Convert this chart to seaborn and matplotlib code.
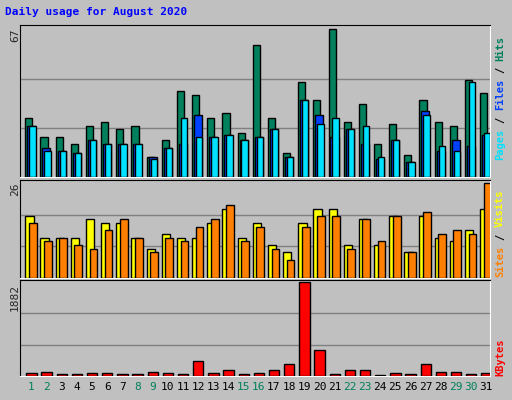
import matplotlib
matplotlib.use("Agg")
import matplotlib.pyplot as plt
import seaborn as sns
import numpy as np

sns.set_style("white")
plt.rcParams['font.family'] = ['DejaVu Sans Mono']

days = list(range(1, 32))
hits = [27,18,18,15,23,25,22,23,9,17,39,37,27,29,20,60,27,11,43,35,67,25,33,15,24,10,35,25,23,44,38]
files = [23,13,12,11,17,15,15,15,9,13,15,28,18,19,17,18,22,9,35,28,18,22,15,8,17,7,30,12,17,14,19]
pages = [23,12,12,11,17,15,15,15,8,13,27,18,18,19,17,18,22,9,35,24,27,22,23,9,17,7,28,14,12,43,20]
sites = [17,11,11,11,16,15,15,11,8,12,11,11,15,19,11,15,9,7,15,19,19,9,16,9,17,7,17,11,10,13,19]
visits = [15,10,11,9,8,13,16,11,7,11,10,14,16,20,10,14,8,5,14,17,17,8,16,10,17,7,18,12,13,12,26]
kbytes = [69,89,48,48,69,69,48,48,89,69,48,295,69,110,48,69,110,234,1882,522,48,110,110,27,69,48,234,89,89,48,69]
weekend = {1,2,8,9,15,16,22,23,29,30}

BG = '#c0c0c0'
fig = plt.figure(figsize=(5.12, 4.0), dpi=100, facecolor=BG)
x = np.arange(31)

def mkax(rect, top):
    ax = fig.add_axes(rect, facecolor=BG)
    ax.set_xlim(-0.35, 30.65)
    ax.set_ylim(0, top)
    ax.set_xticks([]); ax.set_yticks([])
    for s in ['top', 'left']:
        ax.spines[s].set_color('#000000')
    for s in ['bottom', 'right']:
        ax.spines[s].set_color('#ffffff')
    return ax

ek = dict(edgecolor='black', linewidth=1, align='edge', zorder=3)

ax1 = mkax([0.039, 0.5575, 0.918, 0.38], 69)
for g in (67/3, 134/3):
    ax1.axhline(g, color='#808080', lw=1, zorder=1)
ax1.bar(x, hits, width=0.47, color='#00805c', **ek)
ax1.bar(x + 0.13, files, width=0.53, color='#0040ff', **ek)
ax1.bar(x + 0.26, pages, width=0.42, color='#00e0ff', **ek)

ax2 = mkax([0.039, 0.305, 0.918, 0.245], 26.8)
for g in (26/3, 52/3):
    ax2.axhline(g, color='#808080', lw=1, zorder=1)
ax2.bar(x, sites, width=0.55, color='#ffff00', **ek)
ax2.bar(x + 0.24, visits, width=0.51, color='#ff8000', **ek)

ax3 = mkax([0.039, 0.06, 0.918, 0.24], 1882 * 1.02)
for g in (1882/3, 1882*2/3):
    ax3.axhline(g, color='#808080', lw=1, zorder=1)
ax3.bar(x + 0.07, kbytes, width=0.68, color='#ff0000', **ek)

for d in days:
    ax3.text(d - 1 + 0.4, -0.06, str(d), transform=ax3.get_xaxis_transform(),
             ha='center', va='top', fontsize=8,
             color='#00805c' if d in weekend else 'black')

fig.text(5/512, 1 - 12/400, 'Daily usage for August 2020', color='#0000ff',
         fontsize=8, fontweight='bold', va='center', ha='left')
for y, t in ((28, '67'), (183, '26'), (284, '1882')):
    fig.text(15/512, 1 - y/400, t, rotation=90, fontsize=8, ha='center', va='top')

CH = 6.2

def vlabel(ypix, parts):
    yy = 1 - ypix/400
    for txt, col in parts:
        n = len(txt)
        s = txt.strip()
        lead = len(txt) - len(txt.lstrip())
        fig.text(500/512, yy + lead * CH/400, s, rotation=90, fontsize=7.5,
                 fontweight='bold', color=col, ha='center', va='bottom')
        yy += n * CH/400

vlabel(160, [('Pages', '#00e0ff'), (' / ', 'black'), ('Files', '#0040ff'), (' / ', 'black'), ('Hits', '#00805c')])
vlabel(277, [('Sites', '#ff8000'), (' / ', 'black'), ('Visits', '#ffff00')])
vlabel(376, [('KBytes', '#ff0000')])

fig.savefig('out.png', dpi=100, facecolor=BG)
